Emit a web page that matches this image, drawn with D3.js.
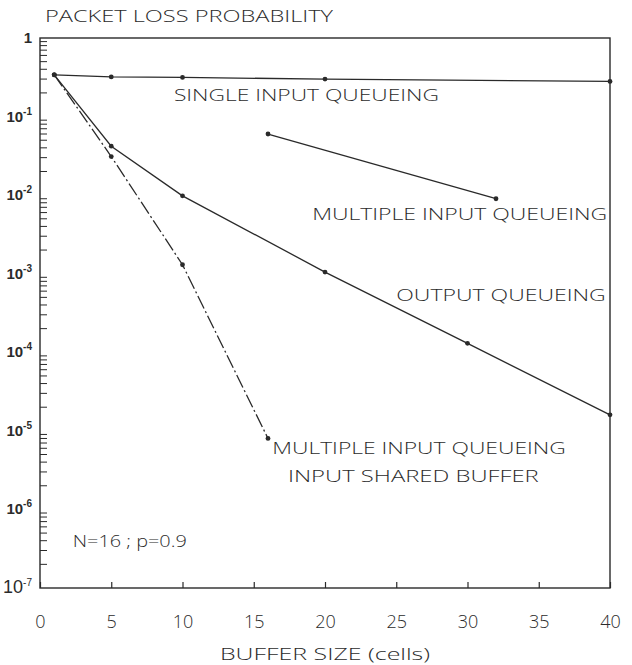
<!DOCTYPE html>
<html>
<head>
<meta charset="utf-8">
<script src="https://cdn.jsdelivr.net/npm/d3@7"></script>
<style>
  body { margin: 0; background: #fff; }
  text { font-family: "Open Sans", "Liberation Sans", "DejaVu Sans", sans-serif; font-weight: 300; fill: #2b2b2b; }
</style>
</head>
<body>
<div class="chart"></div>
<script>
// data
var singleX = [1, 5, 10, 20, 40];
var singleY = [0.34, 0.32, 0.315, 0.30, 0.28];

var multiX = [16, 32];
var multiY = [0.06, 0.009];

var outputX = [1, 5, 10, 20, 30, 40];
var outputY = [0.34, 0.042, 0.0098, 0.00105, 0.00013, 0.000016];

var sharedX = [1, 5, 10, 16];
var sharedY = [0.34, 0.031, 0.0013, 0.000008];

var xTicks = [0, 5, 10, 15, 20, 25, 30, 35, 40];
var yDecades = [0, -1, -2, -3, -4, -5, -6, -7];

var svgWidth = 632;
var svgHeight = 665;

var margin = { top: 38, right: 22, bottom: 77, left: 40 };
var width = svgWidth - margin.left - margin.right;
var height = svgHeight - margin.top - margin.bottom;

var svg = d3.select(".chart")
  .append("svg")
  .attr("width", svgWidth)
  .attr("height", svgHeight);

var chartGroup = svg.append("g")
  .attr("transform", `translate(${margin.left}, ${margin.top})`);

var xScale = d3.scaleLinear().domain([0, 40]).range([0, width]);
var yScale = d3.scaleLog().domain([1e-7, 1]).range([height, 0]);

var ink = "#2a2a2a";

// frame
chartGroup.append("rect")
  .attr("x", 0).attr("y", 0)
  .attr("width", width).attr("height", height)
  .attr("fill", "none")
  .attr("stroke", ink)
  .attr("stroke-width", 1.4);

// x ticks, pointing inside
var bottomAxis = d3.axisBottom(xScale)
  .tickValues(xTicks)
  .tickSizeInner(-6)
  .tickSizeOuter(0)
  .tickPadding(27)
  .tickFormat(d3.format("d"));

var xAxis = chartGroup.append("g")
  .attr("transform", `translate(0, ${height})`)
  .call(bottomAxis);
xAxis.select(".domain").remove();
xAxis.selectAll(".tick line").attr("stroke", ink).attr("stroke-width", 1.2);
xAxis.selectAll(".tick text")
  .style("font-size", "18px")
  .style("font-family", "'Open Sans', 'Liberation Sans', sans-serif")
  .style("font-weight", "300")
  .attr("fill", "#333");

// y minor ticks inside the left axis
var minor = [];
yDecades.forEach(function (k) {
  if (k === 0) return;
  for (var m = 2; m <= 9; m++) minor.push(m * Math.pow(10, k));
});
chartGroup.append("g")
  .selectAll("line")
  .data(minor)
  .enter()
  .append("line")
  .attr("x1", 0)
  .attr("x2", 7)
  .attr("y1", d => yScale(d))
  .attr("y2", d => yScale(d))
  .attr("stroke", ink)
  .attr("stroke-width", 1);

// y decade labels
var yLabels = chartGroup.append("g")
  .selectAll("text")
  .data(yDecades)
  .enter()
  .append("text")
  .attr("x", -8)
  .attr("y", d => yScale(Math.pow(10, d)) + 5)
  .attr("text-anchor", "end")
  .style("font-family", "'Liberation Sans', sans-serif")
  .style("font-size", d => (d === -7 ? "18px" : "15px"))
  .style("font-weight", d => (d === -7 ? "normal" : "bold"));

yLabels.each(function (d) {
  var t = d3.select(this);
  if (d === 0) {
    t.text("1");
  } else {
    t.append("tspan").text("10");
    t.append("tspan")
      .attr("dy", -7)
      .style("font-size", "10px")
      .text(String(d));
  }
});

// lines
var line = d3.line()
  .x(d => xScale(d[0]))
  .y(d => yScale(d[1]));

var series = [
  { xs: singleX, ys: singleY, dash: null },
  { xs: multiX, ys: multiY, dash: null },
  { xs: outputX, ys: outputY, dash: null },
  { xs: sharedX, ys: sharedY, dash: "14,3,2,3" }
];

series.forEach(function (s) {
  var pts = s.xs.map((x, i) => [x, s.ys[i]]);
  chartGroup.append("path")
    .datum(pts)
    .attr("d", line)
    .attr("fill", "none")
    .attr("stroke", ink)
    .attr("stroke-width", 1.3)
    .attr("stroke-dasharray", s.dash);

  chartGroup.append("g")
    .selectAll("circle")
    .data(pts)
    .enter()
    .append("circle")
    .attr("cx", d => xScale(d[0]))
    .attr("cy", d => yScale(d[1]))
    .attr("r", 2.4)
    .attr("fill", ink);
});

// curve labels
function label(txt, x0, x1, decadeY) {
  chartGroup.append("text")
    .attr("x", xScale(x0))
    .attr("y", yScale(Math.pow(10, decadeY)) + 6)
    .attr("textLength", xScale(x1) - xScale(x0))
    .attr("lengthAdjust", "spacingAndGlyphs")
    .style("font-size", "16px")
    .text(txt);
}
label("SINGLE INPUT QUEUEING", 9.4, 28, -0.73);
label("MULTIPLE INPUT QUEUEING", 19.1, 39.8, -2.24);
label("OUTPUT QUEUEING", 25, 39.7, -3.27);
label("MULTIPLE INPUT QUEUEING", 16.3, 36.9, -5.22);
label("INPUT SHARED BUFFER", 17.4, 35, -5.58);
label("N=16 ; p=0.9", 2.3, 10.3, -6.4);

// axis titles
svg.append("text")
  .attr("x", 45)
  .attr("y", 22)
  .attr("textLength", 288)
  .attr("lengthAdjust", "spacingAndGlyphs")
  .style("font-size", "16px")
  .text("PACKET LOSS PROBABILITY");

svg.append("text")
  .attr("x", 220)
  .attr("y", 660)
  .attr("textLength", 210)
  .attr("lengthAdjust", "spacingAndGlyphs")
  .style("font-size", "16px")
  .text("BUFFER SIZE (cells)");
</script>
</body>
</html>
